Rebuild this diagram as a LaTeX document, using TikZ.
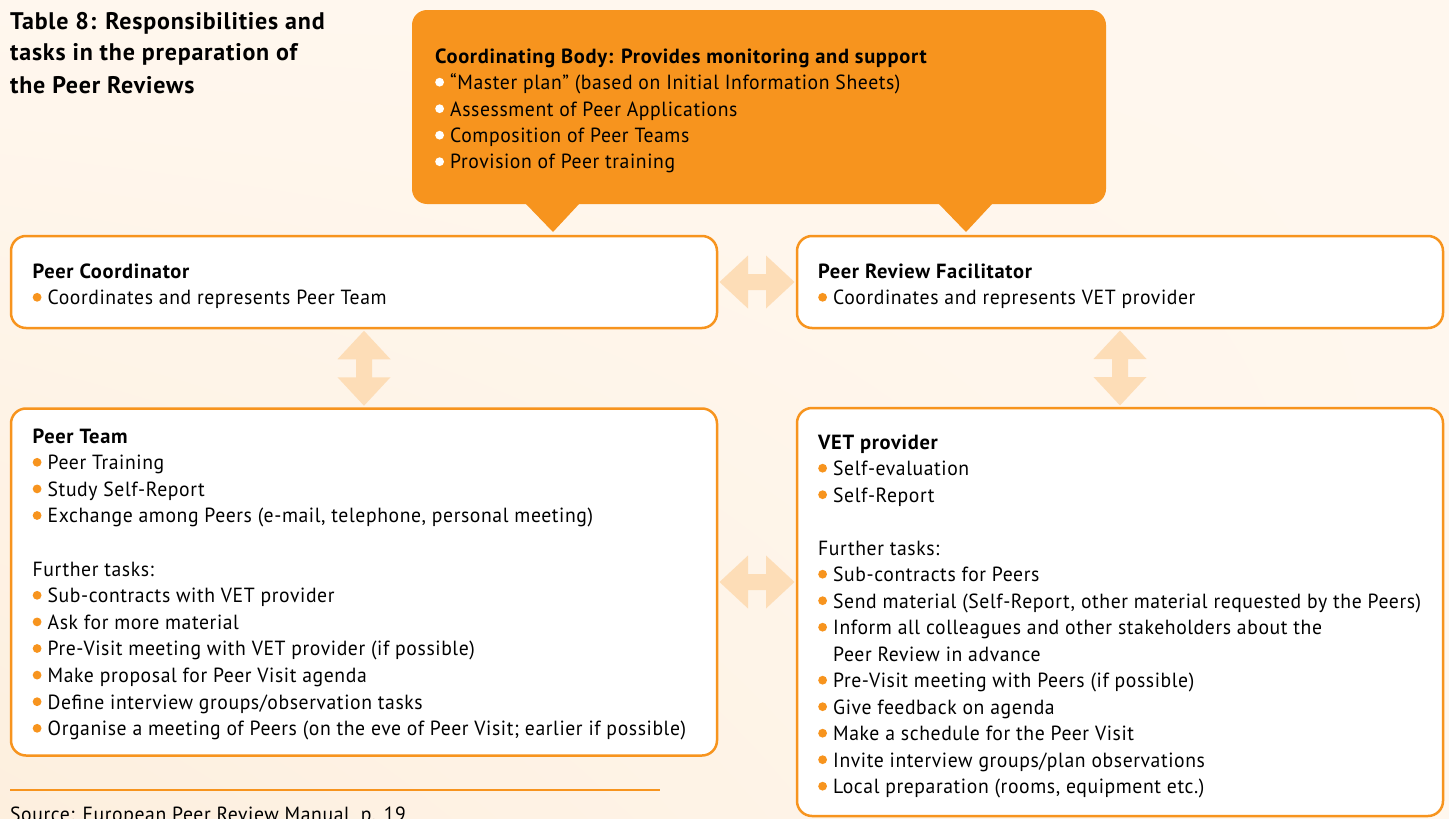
\documentclass[tikz,border=0pt]{standalone}
\usepackage{fontspec}
\setmainfont{PT Sans}[FakeStretch=0.96, LetterSpace=2.9, BoldFeatures={FakeStretch=1.0, LetterSpace=3.3}]
\usetikzlibrary{calc,shadings}
\definecolor{bgA}{RGB}{253,239,222}
\definecolor{bgB}{RGB}{255,247,238}
\definecolor{borange}{RGB}{247,148,30}
\definecolor{lightar}{RGB}{253,221,183}
\newcommand\mybul[1]{\makebox[15pt][l]{\tikz[baseline=0pt]\fill[#1] (4.4pt,7.3pt) circle (4.4pt);}}
\newcommand\ob{\mybul{borange}}
\newcommand\wb{\mybul{white}}
\newcommand\indnt{\hspace*{15pt}}
\tikzset{
  wbox/.style={draw=borange, line width=2.5pt, fill=white, rounded corners=15pt, inner sep=0pt},
  obox/.style={fill=borange, rounded corners=15pt, inner sep=0pt},
  txt/.style={anchor=base west, inner sep=0pt, font=\fontsize{20.5}{26.6}\selectfont},
  ttl/.style={anchor=base west, inner sep=0pt, font=\fontsize{24}{32}\selectfont\bfseries},
  dblarrow/.pic={\fill[lightar] (-37.5,0) -- (-9,-26.5) -- (-9,-8) -- (9,-8) -- (9,-26.5) -- (37.5,0)
     -- (9,26.5) -- (9,8) -- (-9,8) -- (-9,26.5) -- cycle;}
}
\begin{document}
\begin{tikzpicture}[x=1pt,y=-1pt]
\useasboundingbox (0,0) rectangle (1449,819);
\clip (0,0) rectangle (1449,819);
\shade[lower left=bgA, upper right=bgB, lower right=bgB, upper left=bgB] (0,0) rectangle (1449,819);

% title
\node[ttl] (title) at (10,29) {\parbox[t]{400pt}{Table 8: Responsibilities and\\tasks in the preparation of\\the Peer Reviews}};

% coordinating body
\node[obox, minimum width=694pt, minimum height=194pt] (cb) at (759,107) {};
\fill[borange] (525,203) -- (580,203) -- (553,232) -- cycle;
\fill[borange] (938,203) -- (993,203) -- (966,232) -- cycle;
\node[txt] (cbt) at (435,63) {\fontsize{20.5}{26.5}\selectfont\parbox[t]{660pt}{%
\textbf{Coordinating Body: Provides monitoring and support}\\
\wb “Master plan” (based on Initial Information Sheets)\\
\wb Assessment of Peer Applications\\
\wb Composition of Peer Teams\\
\wb Provision of Peer training}};

% boxes
\node[wbox, minimum width=706pt, minimum height=92pt] (pc) at (364,282) {};
\node[wbox, minimum width=646pt, minimum height=92pt] (prf) at (1120,282) {};
\node[wbox, minimum width=706pt, minimum height=347pt] (pt) at (364,582) {};
\node[wbox, minimum width=646pt, minimum height=408pt] (vet) at (1120,612) {};

\node[txt] (pct) at (32.5,278) {\parbox[t]{680pt}{%
\textbf{Peer Coordinator}\\
\ob Coordinates and represents Peer Team}};
\node[txt] (prft) at (818,278) {\parbox[t]{620pt}{%
\textbf{Peer Review Facilitator}\\
\ob Coordinates and represents VET provider}};

\node[txt] (ptt) at (32.5,443) {\parbox[t]{680pt}{%
\textbf{Peer Team}\\
\ob Peer Training\\
\ob Study Self-Report\\
\ob Exchange among Peers (e-mail, telephone, personal meeting)\\
\mbox{}\\
Further tasks:\\
\ob Sub-contracts with VET provider\\
\ob Ask for more material\\
\ob Pre-Visit meeting with VET provider (if possible)\\
\ob Make proposal for Peer Visit agenda\\
\ob Define interview groups/observation tasks\\
\ob Organise a meeting of Peers (on the eve of Peer Visit; earlier if possible)}};

\node[txt] (vett) at (818,449) {\fontsize{20.5}{26.5}\selectfont\parbox[t]{620pt}{%
\textbf{VET provider}\\
\ob Self-evaluation\\
\ob Self-Report\\
\mbox{}\\
Further tasks:\\
\ob Sub-contracts for Peers\\
\ob Send material (Self-Report, other material requested by the Peers)\\
\ob Inform all colleagues and other stakeholders about the\\
\indnt Peer Review in advance\\
\ob Pre-Visit meeting with Peers (if possible)\\
\ob Give feedback on agenda\\
\ob Make a schedule for the Peer Visit\\
\ob Invite interview groups/plan observations\\
\ob Local preparation (rooms, equipment etc.)}};

% connectors
\pic at ($(pc.east)!0.5!(prf.west)$) {dblarrow};
\pic at ($(pt.east)!0.5!(vet.west |- pt.east)$) {dblarrow};
\pic[rotate=90] at ($(pc.south)!0.5!(pt.north)$) {dblarrow};
\pic[rotate=90] at ($(prf.south)!0.5!(vet.north)$) {dblarrow};

% source
\coordinate (srcA) at (10,790);
\coordinate (srcB) at (660,790);
\draw[borange, line width=2pt] (srcA) -- (srcB);
\node[txt] (src) at (10,821) {Source: European Peer Review Manual, p. 19};
\end{tikzpicture}
\end{document}
